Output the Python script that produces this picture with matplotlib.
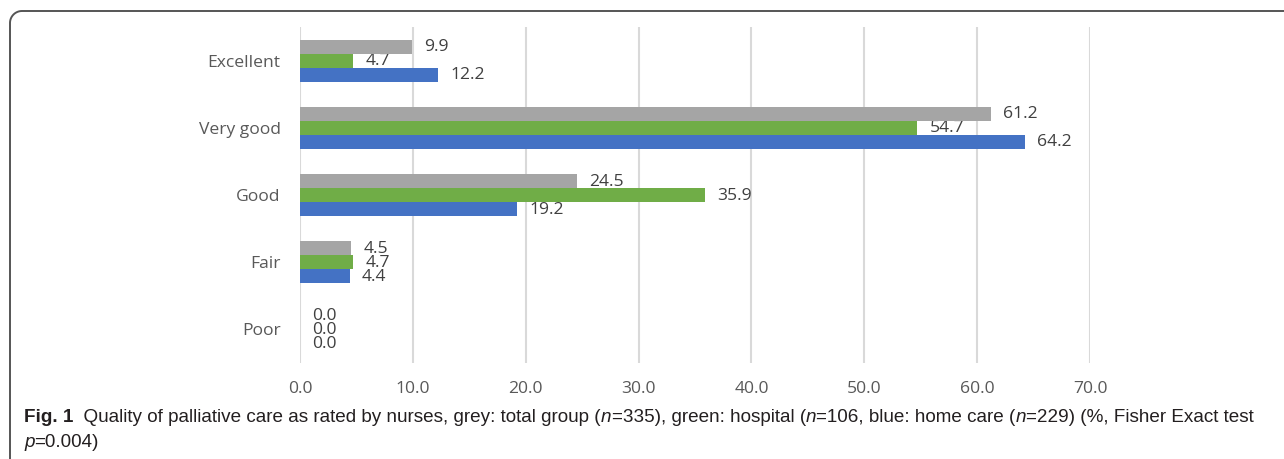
import numpy as np
import matplotlib
matplotlib.use("Agg")
from matplotlib import pyplot as plt
from matplotlib.lines import Line2D
from matplotlib import font_manager


categories = ["Excellent", "Very good", "Good", "Fair", "Poor"]
total = [9.9, 61.2, 24.5, 4.5, 0.0]
hospital = [4.7, 54.7, 35.9, 4.7, 0.0]
home_care = [12.2, 64.2, 19.2, 4.4, 0.0]
ticks = [0, 10, 20, 30, 40, 50, 60, 70]

series = [total, hospital, home_care]
colors = ["#A5A5A5", "#70AD47", "#4472C4"]

names = {f.name for f in font_manager.fontManager.ttflist}
cap_font = "Liberation Sans Narrow" if "Liberation Sans Narrow" in names else "Liberation Sans"

fig = plt.figure(figsize=(12.84, 4.59), dpi=100)
ax = fig.add_axes([300 / 1284, 1 - 363 / 459, 790 / 1284, 336 / 459])

h = 0.208
y = np.arange(len(categories))
for i, (vals, c) in enumerate(zip(series, colors)):
    pos = y + (i - 1) * h
    ax.barh(pos, vals, height=h, color=c, zorder=3)
    for p, v in zip(pos, vals):
        ax.text(v + 1.1, p + 0.01, f"{v:.1f}", va="center", ha="left",
                fontsize=12.6, color="#404040", family="Open Sans", zorder=2)

ax.set_xlim(0, 70)
ax.set_ylim(4.5, -0.5)
ax.set_xticks(ticks)
ax.set_xticklabels([f"{t:.1f}" for t in ticks], fontsize=12.6, color="#595959",
                   family="Open Sans")
ax.set_yticks(y)
ax.set_yticklabels(categories, fontsize=12.6, color="#595959", family="Open Sans")
ax.tick_params(axis="x", length=0, pad=13)
ax.tick_params(axis="y", length=0, pad=14)
ax.grid(axis="x", color="#D9D9D9", linewidth=1.5, zorder=1)
ax.set_axisbelow(True)
for s in ax.spines.values():
    s.set_visible(False)

# frame around the figure (pixel coords)
r = 12
ang = np.linspace(np.pi, np.pi / 2, 20)
fx = np.concatenate([[10], 10 + r + r * np.cos(ang), [1300]])
fy = np.concatenate([[-5], 448 - r + r * np.sin(ang), [448]])
fig.add_artist(Line2D(fx, fy, transform=None, color="#555555", linewidth=1.4))

# caption with mixed styles
pieces = [
    ("Fig. 1", "normal", "bold"),
    ("  Quality of palliative care as rated by nurses, grey: total group (", "normal", "normal"),
    ("n", "italic", "normal"),
    ("=335), green: hospital (", "normal", "normal"),
    ("n", "italic", "normal"),
    ("=106, blue: home care (", "normal", "normal"),
    ("n", "italic", "normal"),
    ("=229) (%, Fisher Exact test", "normal", "normal"),
]
cap_size = 13.6
prev = None
for txt, style, weight in pieces:
    kw = dict(fontsize=cap_size, family=cap_font, style=style, weight=weight,
              color="#231F20", va="bottom", ha="left")
    if prev is None:
        prev = fig.text(24 / 1284, 1 - 426 / 459, txt, **kw)
    else:
        prev = fig.add_artist(matplotlib.text.Annotation(txt, xy=(1, 0), xycoords=prev, **kw))

prev = fig.text(24 / 1284, 1 - 451 / 459, "p", fontsize=cap_size, family=cap_font,
                style="italic", color="#231F20", va="bottom", ha="left")
fig.add_artist(matplotlib.text.Annotation("=0.004)", xy=(1, 0), xycoords=prev,
                                          fontsize=cap_size, family=cap_font,
                                          color="#231F20", va="bottom", ha="left"))

fig.savefig("out.png", dpi=100)
